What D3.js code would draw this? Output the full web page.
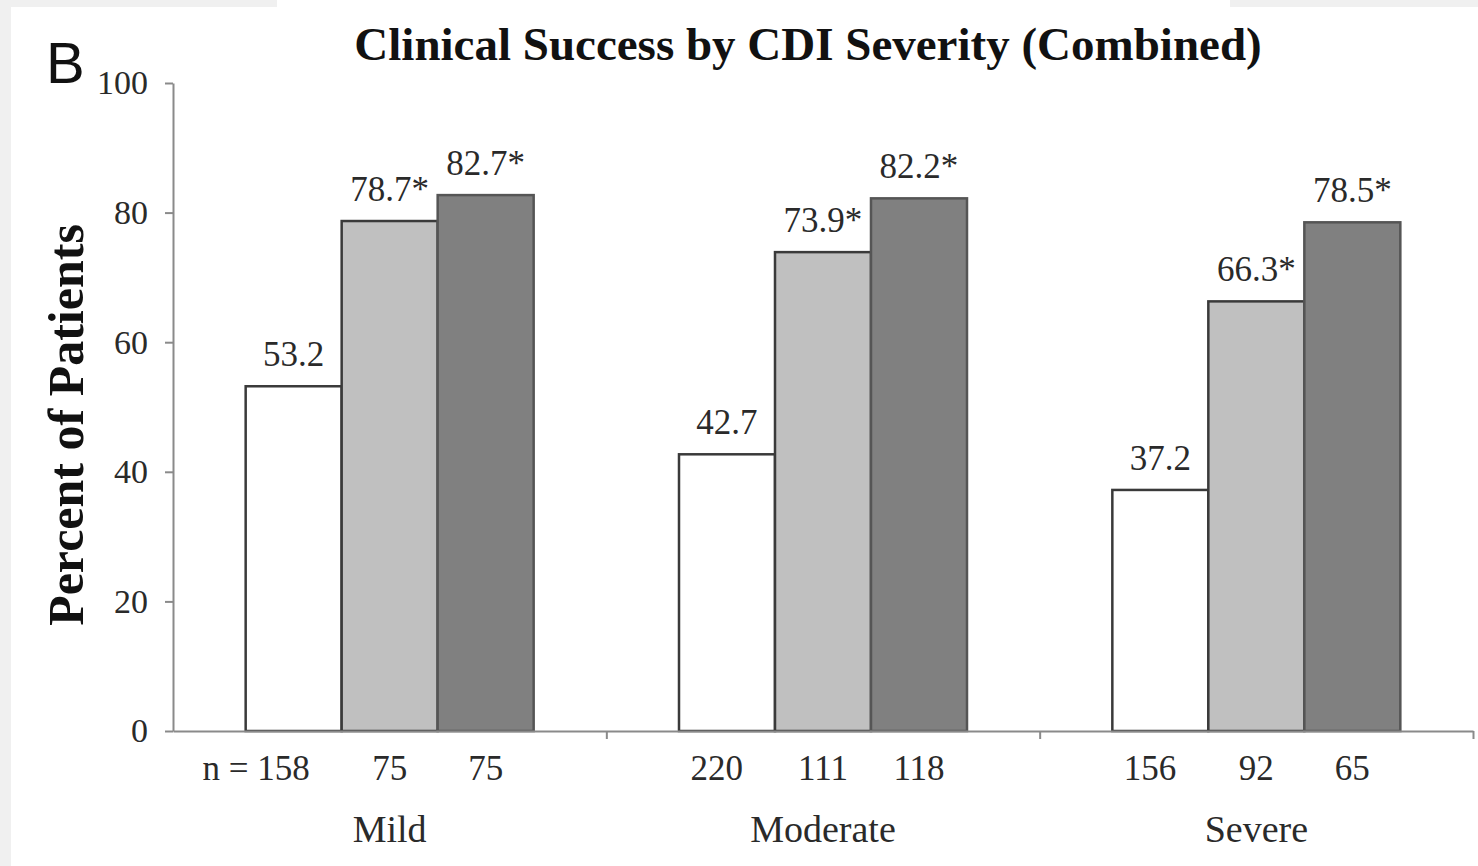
<!DOCTYPE html>
<html lang="en">
<head>
<meta charset="utf-8">
<title>Clinical Success by CDI Severity</title>
<script src="https://cdn.jsdelivr.net/npm/d3@7"></script>
<style>
body { margin: 0; background: #f0f0f0; }
text { font-family: "Liberation Serif", "Times New Roman", serif; fill: #2a2a2a; }
.axis path, .axis line { stroke: #8a8a8a; stroke-width: 2; }
.axis text { font-size: 34px; font-family: "Liberation Serif", serif; fill: #2a2a2a; }
</style>
</head>
<body>
<div id="chart"></div>
<script>
// data
var categories = ["Mild", "Moderate", "Severe"];
var series = ["s1", "s2", "s3"];
var values = [
  [53.2, 78.7, 82.7],
  [42.7, 73.9, 82.2],
  [37.2, 66.3, 78.5]
];
var valueLabels = [
  ["53.2", "78.7*", "82.7*"],
  ["42.7", "73.9*", "82.2*"],
  ["37.2", "66.3*", "78.5*"]
];
var nLabels = [
  ["158", "75", "75"],
  ["220", "111", "118"],
  ["156", "92", "65"]
];
var yTicks = [0, 20, 40, 60, 80, 100];
var fills = ["#ffffff", "#c0c0c0", "#808080"];

var w = 1478, h = 866;
var mLeft = 173, mRight = 1473, mTop = 83, mBottom = 731;

var svg = d3.select("#chart").append("svg")
  .attr("width", w)
  .attr("height", h);

// white page area over the grey surround
svg.append("rect").attr("x", 11).attr("y", 7).attr("width", w - 11).attr("height", h - 7).attr("fill", "#fff");
svg.append("rect").attr("x", 277).attr("y", 0).attr("width", 953).attr("height", 8).attr("fill", "#fff");

var x0 = d3.scaleBand().domain(categories).range([mLeft, mRight]).padding(0);
var x1 = d3.scaleBand().domain(series).range([0, x0.bandwidth()]).paddingInner(0).paddingOuter(0.757);
var y = d3.scaleLinear().domain([0, 100]).range([mBottom, mTop]);

// bars
var groups = svg.selectAll("g.group")
  .data(categories)
  .enter().append("g")
  .attr("class", "group")
  .attr("transform", d => "translate(" + x0(d) + ",0)");

groups.selectAll("rect")
  .data((d, i) => values[i].map((v, j) => ({ v: v, s: series[j], j: j, i: i })))
  .enter().append("rect")
  .attr("x", d => x1(d.s))
  .attr("y", d => y(d.v))
  .attr("width", x1.bandwidth())
  .attr("height", d => y(0) - y(d.v))
  .attr("fill", d => fills[d.j])
  .attr("stroke", d => d.j == 2 ? "#555" : "#3a3a3a")
  .attr("stroke-width", 2.5);

// value labels
groups.selectAll("text.val")
  .data((d, i) => values[i].map((v, j) => ({ v: v, s: series[j], t: valueLabels[i][j] })))
  .enter().append("text")
  .attr("class", "val")
  .attr("x", d => x1(d.s) + x1.bandwidth() / 2)
  .attr("y", d => y(d.v) - 20)
  .attr("text-anchor", "middle")
  .style("font-size", "35px")
  .text(d => d.t);

// n labels (first one carries the "n = " prefix)
groups.selectAll("text.n")
  .data((d, i) => nLabels[i].map((t, j) => ({ t: t, s: series[j], i: i, j: j })))
  .enter().append("text")
  .attr("class", "n")
  .attr("x", d => x1(d.s) + x1.bandwidth() / 2 + (d.j == 0 ? 16 : 0))
  .attr("y", 780)
  .attr("text-anchor", d => d.j == 0 ? "end" : "middle")
  .style("font-size", "35px")
  .text(d => (d.i == 0 && d.j == 0 ? "n = " : "") + d.t);

// category names
svg.selectAll("text.cat")
  .data(categories)
  .enter().append("text")
  .attr("class", "cat")
  .attr("x", d => x0(d) + x0.bandwidth() / 2)
  .attr("y", 842)
  .attr("text-anchor", "middle")
  .style("font-size", "38px")
  .text(d => d);

// axes
var yAxis = d3.axisLeft(y).tickValues(yTicks).tickSize(8).tickSizeOuter(0).tickPadding(17);
svg.append("g").attr("class", "axis").attr("transform", "translate(" + mLeft + ",0)").call(yAxis);

var xt = d3.scaleLinear().domain([0, 3]).range([mLeft, mRight]);
var xAxis = d3.axisBottom(xt).tickValues([1, 2, 3]).tickFormat("").tickSize(8).tickSizeOuter(0);
svg.append("g").attr("class", "axis").attr("transform", "translate(0," + mBottom + ")").call(xAxis);

// titles
svg.append("text")
  .attr("x", 808)
  .attr("y", 60)
  .attr("text-anchor", "middle")
  .style("font-size", "47px")
  .style("font-weight", "bold")
  .style("fill", "#111")
  .text("Clinical Success by CDI Severity (Combined)");

svg.append("text")
  .attr("transform", "translate(83,425) rotate(-90)")
  .attr("text-anchor", "middle")
  .style("font-size", "50px")
  .style("font-weight", "bold")
  .style("fill", "#111")
  .text("Percent of Patients");

svg.append("text")
  .attr("x", 46)
  .attr("y", 83)
  .style("font-family", "'Liberation Sans', Arial, sans-serif")
  .style("font-size", "58px")
  .style("fill", "#111")
  .text("B");
</script>
</body>
</html>
